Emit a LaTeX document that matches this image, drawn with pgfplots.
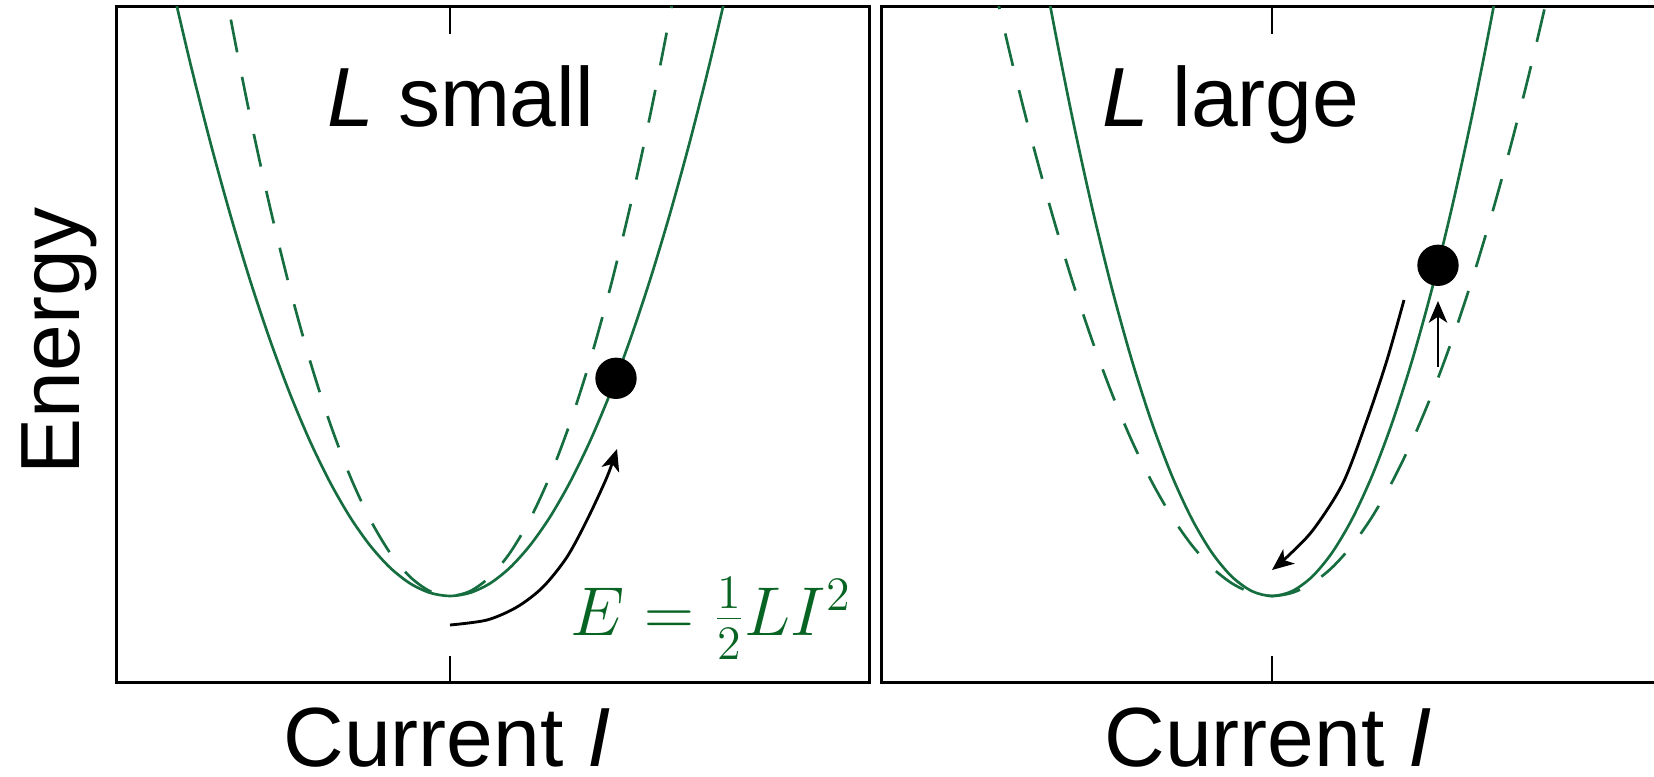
\documentclass[border=0pt]{standalone}
\usepackage{fontspec}
\setmainfont{Liberation Sans}
\usepackage{pgfplots}
\usepackage{pgfplotstable}
\pgfplotsset{compat=1.18}
\usetikzlibrary{arrows.meta}

\definecolor{curvegreen}{RGB}{22,110,64}
\definecolor{eqgreen}{RGB}{8,100,34}

% E = a I^2 with the smaller inductance (wide bowl)
\pgfplotstableread{
x y
-2.8 6.194
-2.6 5.340
-2.4 4.550
-2.2 3.824
-2.0 3.160
-1.8 2.560
-1.6 2.022
-1.4 1.548
-1.2 1.138
-1.0 0.790
-0.8 0.506
-0.6 0.284
-0.4 0.126
-0.2 0.032
0.0 0.000
0.2 0.032
0.4 0.126
0.6 0.284
0.8 0.506
1.0 0.790
1.2 1.138
1.4 1.548
1.6 2.022
1.8 2.560
2.0 3.160
2.2 3.824
2.4 4.550
2.6 5.340
2.8 6.194
}\widecurve

% E = a I^2 with the larger inductance (narrow bowl)
\pgfplotstableread{
x y
-2.4 6.912
-2.2 5.808
-2.0 4.800
-1.8 3.888
-1.6 3.072
-1.4 2.352
-1.2 1.728
-1.0 1.200
-0.8 0.768
-0.6 0.432
-0.4 0.192
-0.2 0.048
0.0 0.000
0.2 0.048
0.4 0.192
0.6 0.432
0.8 0.768
1.0 1.200
1.2 1.728
1.4 2.352
1.6 3.072
1.8 3.888
2.0 4.800
2.2 5.808
2.4 6.912
}\narrowcurve

\newcommand\lbl{\fontsize{25.2pt}{30pt}\selectfont}

\pgfplotsset{
  panel/.style={
    scale only axis, height=202.8pt,
    ymin=-0.87, ymax=5.89,
    axis line style={line width=0.9pt, black},
    xtick={0}, xticklabels={}, ytick=\empty,
    xtick pos=both, tick align=inside,
    major tick length=8.1pt,
    tick style={line width=0.6pt, black},
    clip mode=individual,
  },
  solidcurve/.style={curvegreen, line width=0.8pt, smooth, no markers},
  dashedcurve/.style={curvegreen, line width=0.8pt, smooth, no markers,
    dash pattern=on 10pt off 7.5pt},
  motion/.style={black, line width=0.85pt, smooth, no markers,
    -{Stealth[length=6.5pt,width=5.5pt,inset=1.8pt]}},
  dot/.style={only marks, mark=*, mark size=6pt, black},
}

\begin{document}
\begin{tikzpicture}
\useasboundingbox (-35.1pt,-28.2pt) rectangle (461.1pt,204.9pt);

% small inductance
\begin{axis}[panel, at={(0pt,0pt)}, width=225.6pt, xmin=-3.33, xmax=4.19]
  \addplot[dashedcurve] table {\narrowcurve};
  \addplot[solidcurve] table {\widecurve};
  \addplot[motion] coordinates {(0.00,-0.29) (0.37,-0.24) (0.67,-0.11) (0.93,0.09)
    (1.17,0.39) (1.37,0.76) (1.57,1.19) (1.67,1.47)};
  \addplot[dot] coordinates {(1.66,2.177)};
  \node[anchor=base] at (axis cs:0.11,4.69) {\lbl\textit{L} small};
  \node[anchor=base, text=eqgreen] at (axis cs:2.61,-0.40)
    {\fontsize{21.5pt}{26pt}\selectfont $E=\frac{1}{2}LI^2$};
  \node[anchor=base, inner sep=0pt] at (axis cs:-0.03,-1.70) {\lbl Current \textit{I}};
  \node[anchor=base, rotate=90] at (axis cs:-3.70,2.55) {\lbl Energy};
\end{axis}

% large inductance
\begin{axis}[panel, at={(229.2pt,0pt)}, width=234.6pt, xmin=-3.91, xmax=3.91]
  \addplot[dashedcurve] table {\widecurve};
  \addplot[solidcurve] table {\narrowcurve};
  \addplot[motion] coordinates {(1.32,2.96) (1.15,2.36) (0.95,1.76) (0.71,1.13)
    (0.41,0.66) (0.15,0.39) (0.00,0.26)};
  \addplot[motion] coordinates {(1.66,2.29) (1.66,2.95)};
  \addplot[dot] coordinates {(1.66,3.307)};
  \node[anchor=base] at (axis cs:-0.41,4.69) {\lbl\textit{L} large};
  \node[anchor=base, inner sep=0pt] at (axis cs:-0.04,-1.70) {\lbl Current \textit{I}};
\end{axis}
\end{tikzpicture}
\end{document}
